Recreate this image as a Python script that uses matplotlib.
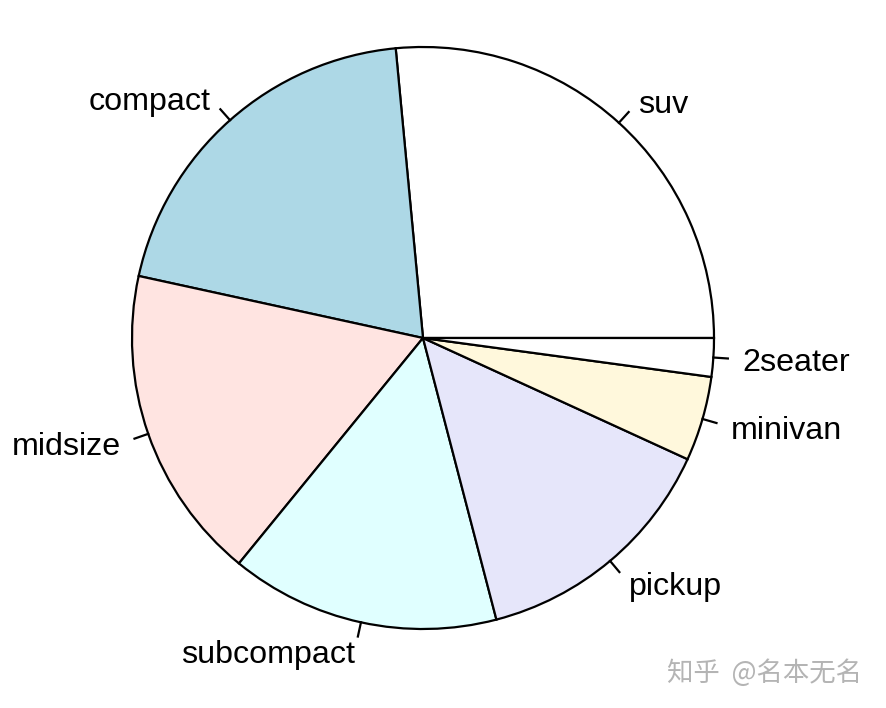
import numpy as np
import matplotlib.pyplot as plt

# mpg class counts, sorted descending (R pie order)
classes = ['suv', 'compact', 'midsize', 'subcompact', 'pickup', 'minivan', '2seater']
counts = [62, 47, 41, 35, 33, 11, 5]
colores = ['white', 'lightblue', 'mistyrose', 'lightcyan', 'lavender', 'cornsilk', 'white']

W, H = 886, 708
fig = plt.figure(figsize=(W / 100, H / 100), dpi=100)
ax = fig.add_axes([0, 0, 1, 1])

cx, cy = 423, H - 338
r = 291

ax.pie(counts, colors=colores, radius=r, center=(cx, cy), startangle=0,
       counterclock=True, frame=True,
       wedgeprops=dict(edgecolor='black', linewidth=1.6))
ax.set_xlim(0, W)
ax.set_ylim(0, H)
ax.set_aspect('equal')
ax.axis('off')

# etiquetas al estilo de R: tick de 1 a 1.05, texto a 1.1
cum = np.cumsum([0] + counts)
tot = cum[-1]
for i, lab in enumerate(classes):
    ang = 2 * np.pi * (cum[i] + cum[i + 1]) / 2 / tot
    dx, dy = np.cos(ang), np.sin(ang)
    ax.plot([cx + r * dx, cx + 1.05 * r * dx], [cy + r * dy, cy + 1.05 * r * dy],
            color='black', lw=1.6)
    ax.text(cx + 1.1 * r * dx, cy + 1.1 * r * dy - 4, lab, fontsize=23.2,
            family='Liberation Sans', ha='left' if dx > 0 else 'right', va='center')

ax.text(862, H - 673, '知乎  @名本无名', fontsize=19, color='#b4b4b4',
        family=['Noto Sans CJK SC', 'DejaVu Sans'], ha='right', va='center')

fig.savefig('out.png', dpi=100)
